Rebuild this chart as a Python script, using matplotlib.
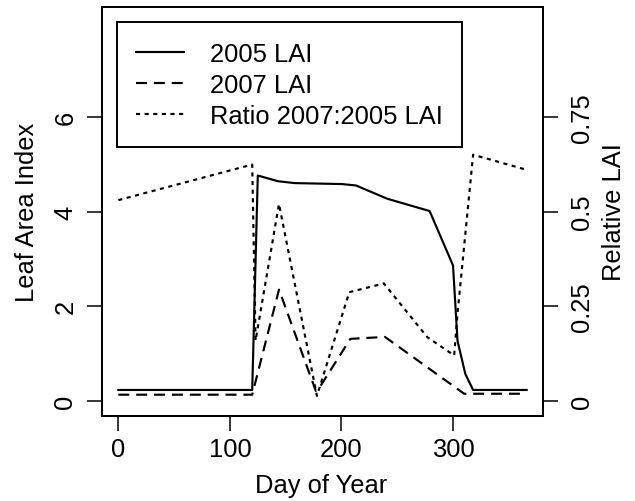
import numpy as np
import matplotlib
matplotlib.use("Agg")
import matplotlib.pyplot as plt

plt.rcParams["font.family"] = ["Liberation Sans", "DejaVu Sans"]

# 2005 LAI
day05 = [0, 120, 125, 143, 158, 200, 213, 241, 279, 300, 304, 311, 318, 366]
lai05 = [0.23, 0.23, 4.76, 4.64, 4.60, 4.58, 4.55, 4.27, 4.01, 2.86, 1.27, 0.57, 0.23, 0.23]

# 2007 LAI
day07 = [0, 120, 144, 177, 180, 208, 239, 310, 366]
lai07 = [0.13, 0.13, 2.35, 0.21, 0.27, 1.31, 1.35, 0.15, 0.15]

# ratio 2007:2005
dayr = [0, 120, 123, 144, 178, 207, 238, 277, 301, 304, 318, 366]
ratio = [0.53, 0.624, 0.159, 0.52, 0.013, 0.287, 0.31, 0.168, 0.12, 0.23, 0.65, 0.61]

W, H = 635, 502
fs = 18.4
lw = 1.55
fig = plt.figure(figsize=(W / 100, H / 100), dpi=100)
ax = fig.add_axes([102 / W, 1 - 417 / H, 441 / W, 409 / H])
ax2 = ax.twinx()

ax.plot(day05, lai05, color="black", lw=lw, label="2005 LAI")
ax.plot(day07, lai07, color="black", lw=lw, ls=(0, (5.1, 3.2)), label="2007 LAI")
ax2.plot(dayr, ratio, color="black", lw=lw, ls=(0, (1.9, 2.1)), label="Ratio 2007:2005 LAI")

ax.set_xlim(-14.64, 380.64)
ax.set_ylim(-0.32, 8.32)
ax2.set_ylim(-0.04, 1.04)
ax.set_xticks([0, 100, 200, 300])
ax.set_yticks([0, 2, 4, 6])
ax2.set_yticks([0, 0.25, 0.5, 0.75])
ax2.set_yticklabels(["0", "0.25", "0.5", "0.75"])

for a in (ax, ax2):
    for s in a.spines.values():
        s.set_linewidth(1.4)
ax.tick_params(axis="x", direction="out", length=10.8, width=1.1, labelsize=fs, pad=4.2)
ax.tick_params(axis="y", direction="out", length=10.8, width=1.1, labelsize=fs, pad=7.0)
ax2.tick_params(axis="y", direction="out", length=10.8, width=1.1, labelsize=fs, pad=8.4)
for lab in ax.get_yticklabels():
    lab.set_rotation(90)
    lab.set_va("center")
for lab in ax2.get_yticklabels():
    lab.set_rotation(90)
    lab.set_va("center")

fig.text(321 / W, 1 - 493.3 / H, "Day of Year", fontsize=fs, ha="center", va="baseline")
fig.text(34 / W, 1 - 212.5 / H, "Leaf Area Index", fontsize=fs, rotation=90,
         rotation_mode="anchor", ha="center", va="baseline")
fig.text(621 / W, 1 - 212.5 / H, "Relative LAI", fontsize=fs, rotation=90,
         rotation_mode="anchor", ha="center", va="baseline")

handles = [ax.get_lines()[0], ax.get_lines()[1], ax2.get_lines()[0]]
leg = ax2.legend(handles, [h.get_label() for h in handles], loc="upper left",
                 bbox_to_anchor=((116.7 - 102) / 441, (417 - 23.3) / 409),
                 borderaxespad=0, fontsize=fs, frameon=True, fancybox=False,
                 framealpha=1, edgecolor="black", handlelength=1.88,
                 handletextpad=1.0, borderpad=0.76, labelspacing=0.28)
leg.get_frame().set_linewidth(1.4)

fig.savefig("out.png", dpi=100)
